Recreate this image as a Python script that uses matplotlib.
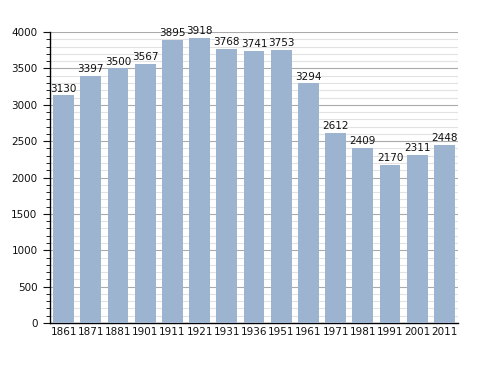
import matplotlib.pyplot as plt
import numpy as np
from matplotlib.ticker import MultipleLocator

years = ['1861', '1871', '1881', '1901', '1911', '1921', '1931', '1936',
         '1951', '1961', '1971', '1981', '1991', '2001', '2011']
population = [3130, 3397, 3500, 3567, 3895, 3918, 3768, 3741,
              3753, 3294, 2612, 2409, 2170, 2311, 2448]

fig = plt.figure(figsize=(4.88, 3.73), dpi=100)
ax = fig.add_axes([0.1025, 0.134, 0.836, 0.780])

x = np.arange(len(years))
ax.bar(x, population, width=0.77, color='#9cb4cf', zorder=3)
for i, v in zip(x, population):
    ax.text(i, v + 25, str(v), ha='center', va='bottom', fontsize=7.5,
            color='#111111', zorder=4)

ax.set_xlim(-0.5, len(years) - 0.5)
ax.set_ylim(0, 4000)
ax.set_xticks(x)
ax.set_xticklabels(years)
ax.yaxis.set_major_locator(MultipleLocator(500))
ax.yaxis.set_minor_locator(MultipleLocator(100))
ax.grid(axis='y', which='major', color='#aaaaaa', linewidth=0.8, zorder=0)
ax.grid(axis='y', which='minor', color='#e2e2e2', linewidth=0.8, zorder=0)
ax.tick_params(axis='both', labelsize=7.5, colors='#111111')
ax.tick_params(axis='x', length=0, pad=3)
ax.tick_params(axis='y', which='major', length=5, direction='out', pad=4)
ax.tick_params(axis='y', which='minor', length=3, direction='out')
for s in ['top', 'right']:
    ax.spines[s].set_visible(False)
ax.spines['left'].set_linewidth(1)
ax.spines['bottom'].set_linewidth(1)

fig.savefig('out.png', dpi=100)
